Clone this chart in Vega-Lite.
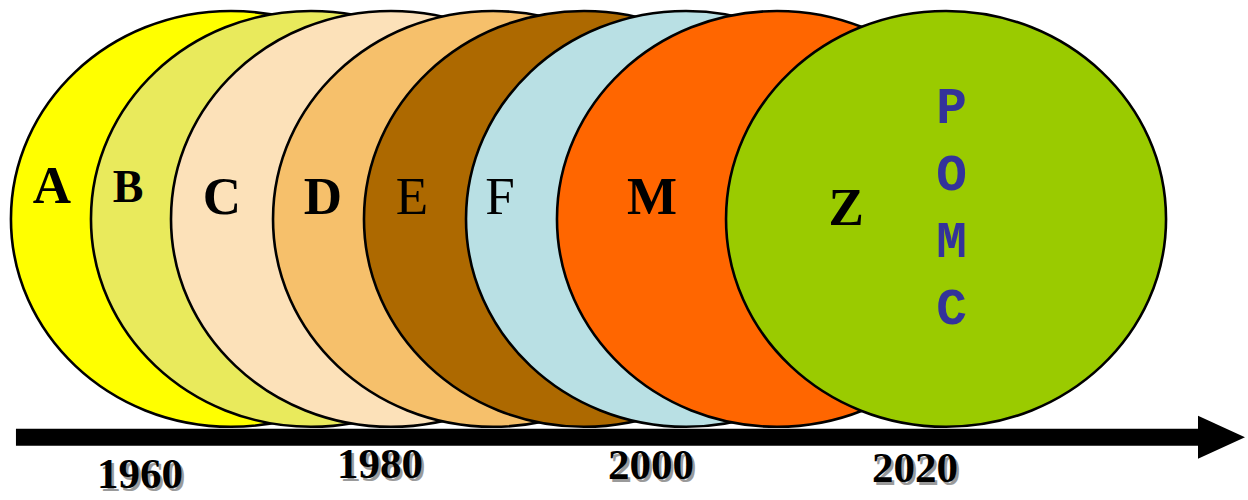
{
  "$schema": "https://vega.github.io/schema/vega-lite/v6.json",
  "autosize": {"type": "fit", "contains": "padding"},
  "width": 1248,
  "height": 500,
  "padding": 0,
  "background": "white",
  "config": {"view": {"stroke": null}},
  "datasets": {
    "eras": [
      {"name": "A", "year": 1966.95, "level": 55.6},
      {"name": "B", "year": 1973.17, "level": 55.6},
      {"name": "C", "year": 1979.39, "level": 55.6},
      {"name": "D", "year": 1987.32, "level": 55.6},
      {"name": "E", "year": 1994.39, "level": 55.6},
      {"name": "F", "year": 2002.32, "level": 55.6},
      {"name": "M", "year": 2009.39, "level": 55.6},
      {"name": "Z", "year": 2022.53, "level": 55.6}
    ],
    "letters": [
      {"name": "A", "year": 1953.04, "level": 58.8},
      {"name": "B", "year": 1958.95, "level": 59.0},
      {"name": "C", "year": 1966.25, "level": 56.6},
      {"name": "D", "year": 1974.10, "level": 56.6},
      {"name": "E", "year": 1981.02, "level": 56.6},
      {"name": "F", "year": 1987.86, "level": 56.6},
      {"name": "M", "year": 1999.68, "level": 56.6},
      {"name": "Z", "year": 2014.76, "level": 54.4}
    ],
    "pomc": [
      {"name": "P", "year": 2022.95, "level": 75.0},
      {"name": "O", "year": 2022.95, "level": 61.4},
      {"name": "M", "year": 2022.95, "level": 47.8},
      {"name": "C", "year": 2022.95, "level": 34.3}
    ],
    "years": [
      {"label": "1960", "year": 1959.88, "level": 1.0},
      {"label": "1980", "year": 1978.54, "level": 3.0},
      {"label": "2000", "year": 1999.60, "level": 2.8},
      {"label": "2020", "year": 2020.12, "level": 2.2}
    ],
    "arrow": [
      {"start": 1950.24, "end": 2042.27, "level": 11.3}
    ],
    "head": [
      {"year": 2043.94, "level": 11.3}
    ]
  },
  "layer": [
    {
      "data": {"name": "eras"},
      "mark": {
        "type": "point",
        "filled": true,
        "opacity": 1,
        "stroke": "black",
        "strokeWidth": 2.6,
        "size": 193600,
        "shape": "M 1 0 C 1 0.5219 0.5523 0.945 0 0.945 C -0.5523 0.945 -1 0.5219 -1 0 C -1 -0.5219 -0.5523 -0.945 0 -0.945 C 0.5523 -0.945 1 -0.5219 1 0 Z"
      },
      "encoding": {
        "x": {"field": "year", "type": "quantitative", "scale": {"domain": [1949, 2046], "nice": false, "zero": false}, "axis": null},
        "y": {"field": "level", "type": "quantitative", "scale": {"domain": [0, 100], "nice": false, "zero": false}, "axis": null},
        "color": {
          "field": "name",
          "type": "nominal",
          "scale": {
            "domain": ["A", "B", "C", "D", "E", "F", "M", "Z"],
            "range": ["#ffff00", "#e9ea5c", "#fce1b9", "#f6c06b", "#ad6900", "#b9e0e4", "#ff6600", "#9acb00"]
          },
          "legend": null
        }
      }
    },
    {
      "data": {"name": "letters"},
      "transform": [{"filter": "datum.name != 'B' && datum.name != 'E' && datum.name != 'F'"}],
      "mark": {"type": "text", "font": "Liberation Serif", "fontWeight": "bold", "fontSize": 53, "align": "center", "baseline": "alphabetic", "color": "black"},
      "encoding": {
        "x": {"field": "year", "type": "quantitative", "scale": {"domain": [1949, 2046], "nice": false, "zero": false}, "axis": null},
        "y": {"field": "level", "type": "quantitative", "scale": {"domain": [0, 100], "nice": false, "zero": false}, "axis": null},
        "text": {"field": "name"}
      }
    },
    {
      "data": {"name": "letters"},
      "transform": [{"filter": "datum.name == 'B'"}],
      "mark": {"type": "text", "font": "Liberation Serif", "fontWeight": "bold", "fontSize": 46, "align": "center", "baseline": "alphabetic", "color": "black"},
      "encoding": {
        "x": {"field": "year", "type": "quantitative", "scale": {"domain": [1949, 2046], "nice": false, "zero": false}, "axis": null},
        "y": {"field": "level", "type": "quantitative", "scale": {"domain": [0, 100], "nice": false, "zero": false}, "axis": null},
        "text": {"field": "name"}
      }
    },
    {
      "data": {"name": "letters"},
      "transform": [{"filter": "datum.name == 'E' || datum.name == 'F'"}],
      "mark": {"type": "text", "font": "Liberation Serif", "fontWeight": "normal", "fontSize": 53, "align": "center", "baseline": "alphabetic", "color": "black"},
      "encoding": {
        "x": {"field": "year", "type": "quantitative", "scale": {"domain": [1949, 2046], "nice": false, "zero": false}, "axis": null},
        "y": {"field": "level", "type": "quantitative", "scale": {"domain": [0, 100], "nice": false, "zero": false}, "axis": null},
        "text": {"field": "name"}
      }
    },
    {
      "data": {"name": "pomc"},
      "mark": {"type": "text", "font": "Liberation Mono", "fontWeight": "bold", "fontSize": 51, "align": "center", "baseline": "alphabetic", "color": "#33339a"},
      "encoding": {
        "x": {"field": "year", "type": "quantitative", "scale": {"domain": [1949, 2046], "nice": false, "zero": false}, "axis": null},
        "y": {"field": "level", "type": "quantitative", "scale": {"domain": [0, 100], "nice": false, "zero": false}, "axis": null},
        "text": {"field": "name"}
      }
    },
    {
      "data": {"name": "arrow"},
      "mark": {"type": "rule", "color": "black", "strokeWidth": 17, "strokeCap": "butt"},
      "encoding": {
        "x": {"field": "start", "type": "quantitative", "scale": {"domain": [1949, 2046], "nice": false, "zero": false}, "axis": null},
        "x2": {"field": "end"},
        "y": {"field": "level", "type": "quantitative", "scale": {"domain": [0, 100], "nice": false, "zero": false}, "axis": null}
      }
    },
    {
      "data": {"name": "head"},
      "mark": {"type": "point", "filled": true, "opacity": 1, "color": "black", "strokeWidth": 0, "size": 2209, "shape": "M -1 -0.915 L 1 0 L -1 0.915 Z"},
      "encoding": {
        "x": {"field": "year", "type": "quantitative", "scale": {"domain": [1949, 2046], "nice": false, "zero": false}, "axis": null},
        "y": {"field": "level", "type": "quantitative", "scale": {"domain": [0, 100], "nice": false, "zero": false}, "axis": null}
      }
    },
    {
      "data": {"name": "years"},
      "mark": {"type": "text", "font": "Liberation Serif", "fontWeight": "bold", "fontSize": 43, "align": "center", "baseline": "alphabetic", "color": "#9a9a9a", "dx": 2.5, "dy": 2.5},
      "encoding": {
        "x": {"field": "year", "type": "quantitative", "scale": {"domain": [1949, 2046], "nice": false, "zero": false}, "axis": null},
        "y": {"field": "level", "type": "quantitative", "scale": {"domain": [0, 100], "nice": false, "zero": false}, "axis": null},
        "text": {"field": "label"}
      }
    },
    {
      "data": {"name": "years"},
      "mark": {"type": "text", "font": "Liberation Serif", "fontWeight": "bold", "fontSize": 43, "align": "center", "baseline": "alphabetic", "color": "black"},
      "encoding": {
        "x": {"field": "year", "type": "quantitative", "scale": {"domain": [1949, 2046], "nice": false, "zero": false}, "axis": null},
        "y": {"field": "level", "type": "quantitative", "scale": {"domain": [0, 100], "nice": false, "zero": false}, "axis": null},
        "text": {"field": "label"}
      }
    }
  ]
}
